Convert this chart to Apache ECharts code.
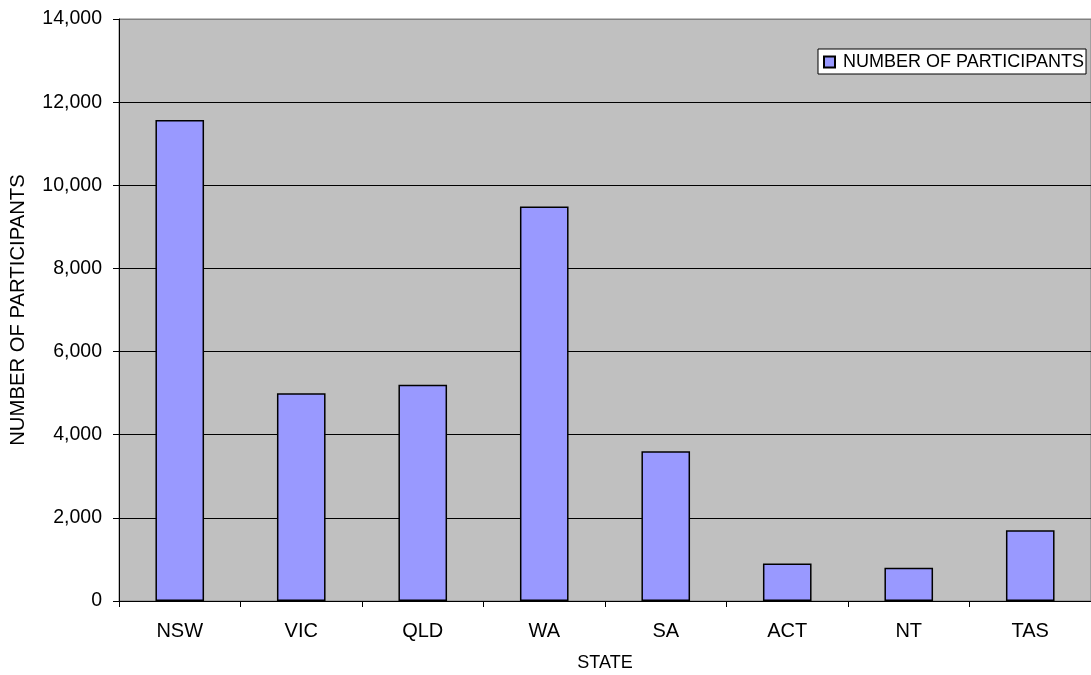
<!DOCTYPE html>
<html>
<head>
<meta charset="utf-8">
<script src="https://cdn.jsdelivr.net/npm/echarts@6/dist/echarts.min.js"></script>
<style>
html,body{margin:0;padding:0;background:#fff;}
#chart{width:1091px;height:675px;}
</style>
</head>
<body>
<div id="chart"></div>
<script>
const categories = ['NSW', 'VIC', 'QLD', 'WA', 'SA', 'ACT', 'NT', 'TAS'];
const participants = [11570, 5000, 5200, 9490, 3600, 900, 800, 1700];
const seriesName = 'NUMBER OF PARTICIPANTS';
const xTitle = 'STATE';
const yTitle = 'NUMBER OF PARTICIPANTS';

const FONT = '"Liberation Sans", Arial, sans-serif';
const chart = echarts.init(document.getElementById('chart'), null, {renderer: 'canvas'});
chart.setOption({
  backgroundColor: '#ffffff',
  animation: false,
  textStyle: {fontFamily: FONT, color: '#000'},
  grid: {
    left: 119, right: 0, top: 19, bottom: 74,
    containLabel: false,
    outerBoundsMode: 'none',
    show: true, backgroundColor: '#C0C0C0', borderColor: '#808080', borderWidth: 1
  },
  legend: {
    data: [seriesName],
    left: 818, top: 49,
    padding: [4, 2, 3, 5],
    itemWidth: 11, itemHeight: 11,
    icon: 'rect',
    backgroundColor: '#ffffff',
    borderColor: '#000000', borderWidth: 1,
    textStyle: {fontFamily: FONT, fontSize: 18, color: '#000', padding: [0, 0, 0, 3]}
  },
  xAxis: {
    type: 'category',
    data: categories,
    name: xTitle,
    nameLocation: 'middle',
    nameGap: 53,
    nameTextStyle: {fontFamily: FONT, fontSize: 18, color: '#000'},
    axisLine: {show: true, lineStyle: {color: '#000', width: 1}},
    axisTick: {show: true, length: 6, alignWithLabel: false, lineStyle: {color: '#000'}},
    axisLabel: {fontFamily: FONT, fontSize: 20, color: '#000', margin: 20},
    splitLine: {show: false}
  },
  yAxis: {
    type: 'value',
    min: 0, max: 14000, interval: 2000,
    name: yTitle,
    nameLocation: 'middle',
    nameGap: 91,
    nameRotate: 90,
    nameTextStyle: {fontFamily: FONT, fontSize: 20.3, color: '#000'},
    axisLine: {show: true, lineStyle: {color: '#000', width: 1}},
    axisTick: {show: true, length: 6, lineStyle: {color: '#000'}},
    axisLabel: {
      fontFamily: FONT, fontSize: 19.5, color: '#000', margin: 17,
      formatter: v => v.toLocaleString('en-US')
    },
    splitLine: {show: true, lineStyle: {color: ['#000','#000','#000','#000','#000','#000','#000','#808080'], width: 1}}
  },
  series: [{
    name: seriesName,
    type: 'bar',
    data: participants,
    barCategoryGap: '60%',
    itemStyle: {color: '#9999FF', borderColor: '#000', borderWidth: 1.5}
  }]
});
</script>
</body>
</html>
